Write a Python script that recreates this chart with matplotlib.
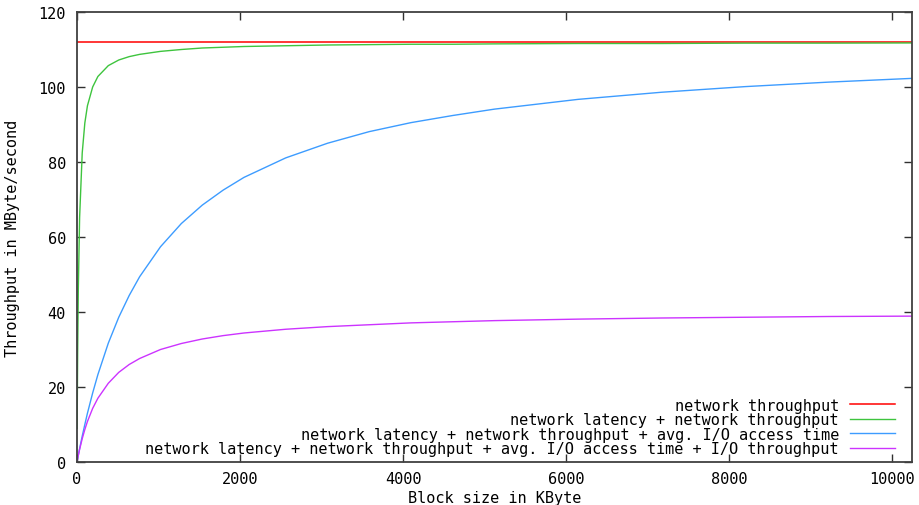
import matplotlib
matplotlib.use('Agg')
import matplotlib.pyplot as plt

# block sizes in KByte
block_kb = [2, 4, 8, 16, 32, 64, 96, 128, 192, 256, 384, 512, 640, 768, 1024,
            1280, 1536, 1792, 2048, 2560, 3072, 3584, 4096, 4608, 5120,
            6144, 7168, 8192, 9216, 10240]

# throughput in MByte/second
net_tp = [112.0] * len(block_kb)
net_lat_tp = [9.0, 16.6, 29.0, 46.0, 65.2, 82.4, 90.4, 95.0, 100.0, 102.8,
              105.7, 107.2, 108.1, 108.7, 109.5, 110.0, 110.4, 110.6, 110.8,
              111.0, 111.2, 111.3, 111.4, 111.4, 111.5, 111.6, 111.6, 111.7,
              111.7, 111.75]
net_io_access = [0.23, 0.46, 0.91, 1.81, 3.56, 6.90, 10.0, 13.0, 18.4, 23.3,
                 31.7, 38.6, 44.4, 49.4, 57.4, 63.6, 68.5, 72.5, 75.9, 81.1,
                 85.0, 88.1, 90.5, 92.4, 94.1, 96.7, 98.6, 100.1, 101.3, 102.3]
net_io_full = [0.23, 0.45, 0.90, 1.76, 3.37, 6.22, 8.66, 10.8, 14.3, 17.0,
               21.0, 23.9, 26.0, 27.6, 30.0, 31.6, 32.8, 33.7, 34.4, 35.4,
               36.1, 36.6, 37.1, 37.4, 37.7, 38.1, 38.4, 38.6, 38.8, 38.9]

labels = [
    'network throughput',
    'network latency + network throughput',
    'network latency + network throughput + avg. I/O access time',
    'network latency + network throughput + avg. I/O access time + I/O throughput',
]
colors = ['#ff0000', '#3ec43e', '#3d9cff', '#cc33ff']

plt.rcParams['font.family'] = ['DejaVu Sans Mono']
plt.rcParams['font.size'] = 11

fig = plt.figure(figsize=(9.2, 5.06), dpi=100)
ax = fig.add_axes([77 / 920, 1 - 463 / 506, 835 / 920, 450 / 506])

ax.plot([0, 10240], [net_tp[0], net_tp[-1]], color=colors[0], lw=1.1, label=labels[0])
ax.plot(block_kb, net_lat_tp, color=colors[1], lw=1.0, label=labels[1])
ax.plot([0] + block_kb, [0] + net_io_access, color=colors[2], lw=1.0, label=labels[2])
ax.plot([0] + block_kb, [0] + net_io_full, color=colors[3], lw=1.0, label=labels[3])

ax.set_xlim(0, 10240)
ax.set_ylim(0, 120)
ax.set_xticks(range(0, 10001, 2000))
ax.set_yticks(range(0, 121, 20))
ax.tick_params(direction='in', length=6, width=1, color='#303030',
               top=True, right=True, labelsize=11)
ax.tick_params(axis='y', pad=8)
ax.tick_params(axis='x', pad=6.5)
for s in ax.spines.values():
    s.set_color('#404040')
    s.set_linewidth(1.3)

ax.set_xlabel('Block size in KByte', labelpad=3)
ax.set_ylabel('Throughput in MByte/second', labelpad=13)

ax.legend(loc='lower right', bbox_to_anchor=(1 - 17 / 835, 6 / 450),
          frameon=False, markerfirst=False, borderpad=0, borderaxespad=0,
          handlelength=2.95, handletextpad=0.72, labelspacing=-0.04,
          fontsize=11)

fig.savefig('out.png', dpi=100)
